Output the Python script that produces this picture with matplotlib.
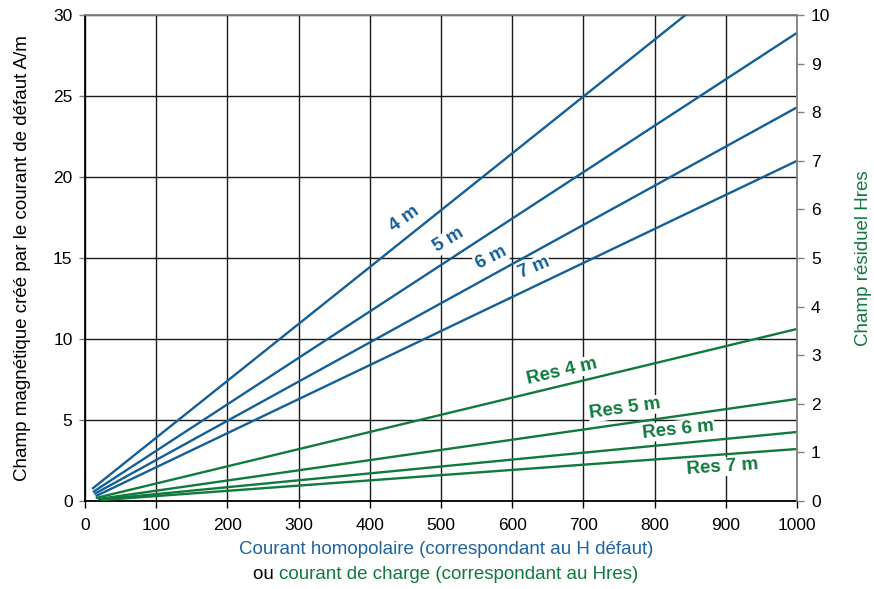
import numpy as np
import matplotlib
matplotlib.use('Agg')
import matplotlib.pyplot as plt

plt.rcParams['font.family'] = ['Liberation Sans', 'DejaVu Sans']

# distances (m) and line data
distances = ['4 m', '5 m', '6 m', '7 m']
# champ de défaut (left axis, A/m): start point and value at 1000 A
h_x0 = [10, 11, 13, 15]
h_y0 = [0.75, 0.55, 0.43, 0.30]
h_y1000 = [35.5, 28.9, 24.3, 21.0]
# champ résiduel (right axis): start point and value at 1000 A
r_x0 = [15, 18, 21, 24]
r_y0 = [0.06, 0.04, 0.03, 0.02]
r_y1000 = [3.54, 2.10, 1.42, 1.07]

# label positions (in left-axis data units) and rotations
h_lab_xy = [(449, 17.4), (511, 16.1), (570, 15.0), (631, 14.4)]
h_lab_rot = [36, 31, 27, 23]
r_lab_xy = [(670, 8.0), (758, 5.7), (833, 4.4), (895, 2.1)]
r_lab_rot = [13, 8, 6, 4]

blue = '#135f96'
green = '#107a3c'

fig = plt.figure(figsize=(8.74, 5.89), dpi=100)
ax = fig.add_axes([0.0973, 0.1494, 0.8146, 0.8251])
ax2 = ax.twinx()

for i in range(len(distances)):
    ax.plot([h_x0[i], 1000], [h_y0[i], h_y1000[i]], color=blue, lw=1.7,
            zorder=3, solid_capstyle='butt')
    # residual lines drawn in left units (right axis = left / 3)
    ax.plot([r_x0[i], 1000], [r_y0[i] * 3, r_y1000[i] * 3], color=green,
            lw=1.7, zorder=3, solid_capstyle='butt')

for i in range(len(distances)):
    x, y = h_lab_xy[i]
    ax.text(x, y, distances[i], color=blue, fontsize=13.5, fontweight='bold',
            rotation=h_lab_rot[i], ha='center', va='center', zorder=4,
            bbox=dict(facecolor='white', edgecolor='none', pad=0.5))
    x, y = r_lab_xy[i]
    ax.text(x, y, 'Res ' + distances[i], color=green, fontsize=13.5,
            fontweight='bold', rotation=r_lab_rot[i], ha='center',
            va='center', zorder=4,
            bbox=dict(facecolor='white', edgecolor='none', pad=0.5))

ax.set_xlim(0, 1000)
ax.set_ylim(0, 30)
ax2.set_ylim(0, 10)
ax.set_xticks(np.arange(0, 1001, 100))
ax.set_yticks(np.arange(0, 31, 5))
ax2.set_yticks(np.arange(0, 11, 1))

ax.grid(True, color='#1a1a1a', lw=1.0, zorder=1)
ax.set_axisbelow(True)

ax.tick_params(axis='x', direction='out', length=5, width=1,
               color='black', labelsize=12.5, pad=7)
ax.tick_params(axis='y', direction='out', length=4, width=1,
               color='#808080', labelsize=12.5, pad=5)
ax2.tick_params(axis='y', direction='out', length=5, width=1,
                color='#808080', labelsize=12.5, pad=5)

ax.spines['left'].set_color('black')
ax.spines['bottom'].set_color('black')
ax.spines['top'].set_color('#808080')
ax.spines['right'].set_visible(False)
ax2.spines['right'].set_color('#808080')
ax2.spines['top'].set_visible(False)
ax2.spines['left'].set_visible(False)
ax2.spines['bottom'].set_visible(False)
for sp in ax.spines.values():
    sp.set_linewidth(1.3)
ax2.spines['right'].set_linewidth(1.3)

ax.set_ylabel('Champ magnétique créé par le courant de défaut A/m',
              fontsize=13.5, labelpad=16)
ax2.set_ylabel('Champ résiduel Hres', fontsize=13.5, color=green,
               labelpad=18)

fig.text(0.51, 0.052, 'Courant homopolaire (correspondant au H défaut)',
         color='#1e64a0', fontsize=13.5, ha='center', va='bottom')
fig.text(0.51, 0.010, 'ou ', color='black', fontsize=13.5,
         ha='right', va='bottom')
t = fig.text(0.51, 0.010, 'courant de charge (correspondant au Hres)',
             color=green, fontsize=13.5, ha='left', va='bottom')
# shift the second line so the pair is centred
fig.canvas.draw()
r = fig.canvas.get_renderer()
w_ou = fig.texts[1].get_window_extent(r).width / fig.bbox.width
w_rest = t.get_window_extent(r).width / fig.bbox.width
shift = (w_ou - w_rest) / 2
fig.texts[1].set_x(0.51 + shift)
t.set_x(0.51 + shift)

fig.savefig('out.png', dpi=100)
